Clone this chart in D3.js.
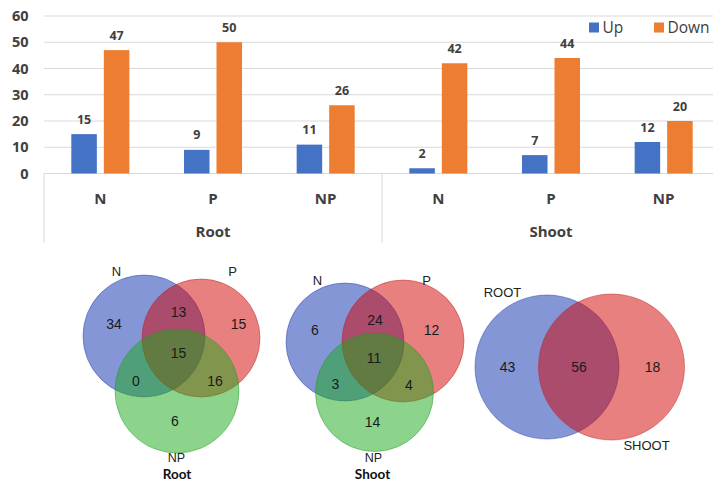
<!DOCTYPE html>
<html>
<head>
<meta charset="utf-8">
<script src="https://cdn.jsdelivr.net/npm/d3@7"></script>
<style>
  html, body { margin: 0; padding: 0; background: #fff; }
  svg { display: block; }
</style>
</head>
<body>
<svg id="chart" width="713" height="483"></svg>
<script>
// ---- Differentially expressed gene counts ----
const groups = ["Root", "Shoot"];
const treatments = ["N", "P", "NP"];
const series = ["Up", "Down"];
const upCounts = [15, 9, 11, 2, 7, 12];
const downCounts = [47, 50, 26, 42, 44, 20];
const yTicks = [0, 10, 20, 30, 40, 50, 60];

// ---- Venn overlap counts ----
const vennSets = ["N", "P", "NP"];
// regions: N only, P only, NP only, N∩P, N∩NP, P∩NP, N∩P∩NP
const rootVenn = [34, 15, 6, 13, 0, 16, 15];
const shootVenn = [6, 12, 14, 24, 3, 4, 11];
const organSets = ["ROOT", "SHOOT"];
const organVenn = [43, 18, 56]; // ROOT only, SHOOT only, shared

const svg = d3.select("#chart");
const colors = { Up: "#4472C4", Down: "#ED7D31" };
const textGray = "#404040";
const barFont = "'Open Sans', 'DejaVu Sans', sans-serif";

// ---------- grouped bar chart ----------
const cats = [];
groups.forEach(g => treatments.forEach(t => cats.push(g + "|" + t)));
const rows = cats.map((c, i) => ({ key: c, Up: upCounts[i], Down: downCounts[i] }));

const y = d3.scaleLinear().domain([0, 60]).range([173.5, 16]);
const x0 = d3.scaleBand().domain(cats).range([44, 720]).paddingInner(0.485).paddingOuter(0.2425);
const x1 = d3.scaleBand().domain(series).range([0, x0.bandwidth()]).paddingInner(0.215);

// gridlines
svg.append("g").selectAll("line").data(yTicks).join("line")
  .attr("x1", 44).attr("x2", 713)
  .attr("y1", d => y(d)).attr("y2", d => y(d))
  .attr("stroke", "#d9d9d9").attr("stroke-width", 1);

// y tick labels
svg.append("g").selectAll("text").data(yTicks).join("text")
  .attr("x", 28.5).attr("y", d => y(d)).attr("dy", "0.36em")
  .attr("text-anchor", "end")
  .attr("font-family", barFont).attr("font-weight", 700).attr("font-size", 14.5)
  .attr("fill", textGray).text(d => d);

// group separators below the axis
const sepX = [44, (x0(cats[2]) + x0.bandwidth() + x0(cats[3])) / 2];
svg.append("g").selectAll("line").data(sepX).join("line")
  .attr("x1", d => d).attr("x2", d => d)
  .attr("y1", y(0)).attr("y2", 243)
  .attr("stroke", "#d9d9d9").attr("stroke-width", 1);

// bars
const gBars = svg.append("g").selectAll("g").data(rows).join("g")
  .attr("transform", d => `translate(${x0(d.key)},0)`);
gBars.selectAll("rect").data(d => series.map(s => ({ s, v: d[s] }))).join("rect")
  .attr("x", d => x1(d.s)).attr("width", x1.bandwidth())
  .attr("y", d => y(d.v)).attr("height", d => y(0) - y(d.v))
  .attr("fill", d => colors[d.s]);
gBars.selectAll("text").data(d => series.map(s => ({ s, v: d[s] }))).join("text")
  .attr("x", d => x1(d.s) + x1.bandwidth() / 2).attr("y", d => y(d.v) - 10.5)
  .attr("text-anchor", "middle")
  .attr("font-family", barFont).attr("font-weight", 700).attr("font-size", 12.5)
  .attr("fill", textGray).text(d => d.v);

// treatment labels
svg.append("g").selectAll("text").data(cats).join("text")
  .attr("x", d => x0(d) + x0.bandwidth() / 2).attr("y", 203.5)
  .attr("text-anchor", "middle")
  .attr("font-family", barFont).attr("font-weight", 700).attr("font-size", 15)
  .attr("fill", textGray).text(d => d.split("|")[1]);

// organ labels
svg.append("g").selectAll("text").data(groups).join("text")
  .attr("x", (g, i) => {
    const a = x0(cats[i * 3]), b = x0(cats[i * 3 + 2]) + x0.bandwidth();
    return (a + b) / 2;
  })
  .attr("y", 237)
  .attr("text-anchor", "middle")
  .attr("font-family", barFont).attr("font-weight", 700).attr("font-size", 15)
  .attr("fill", textGray).text(d => d);

// legend
const legend = svg.append("g").selectAll("g").data(series).join("g")
  .attr("transform", (d, i) => `translate(${[589, 654][i]},0)`);
legend.append("rect").attr("x", 0).attr("y", 22.5).attr("width", 10).attr("height", 10)
  .attr("fill", d => colors[d]);
legend.append("text").attr("x", 13.5).attr("y", 32.5)
  .attr("font-family", barFont).attr("font-size", 15.5)
  .attr("fill", textGray).text(d => d);

// ---------- Venn diagrams ----------
const vennFill = ["rgba(11,45,173,0.5)", "rgba(209,1,1,0.5)", "rgba(25,169,25,0.5)"];
const vennStroke = ["rgba(40,60,160,0.45)", "rgba(190,30,30,0.45)", "rgba(30,150,30,0.45)"];
const vFont = "'Liberation Sans', Arial, sans-serif";

function drawVenn(circles, setNames, namePos, counts, countPos, title, titlePos) {
  const g = svg.append("g");
  g.selectAll("circle").data(circles).join("circle")
    .attr("cx", d => d[0]).attr("cy", d => d[1]).attr("r", d => d[2])
    .attr("fill", (d, i) => vennFill[i]).attr("stroke", (d, i) => vennStroke[i]).attr("stroke-width", 1);
  g.selectAll("text.name").data(setNames).join("text").attr("class", "name")
    .attr("x", (d, i) => namePos[i][0]).attr("y", (d, i) => namePos[i][1])
    .attr("text-anchor", "middle").attr("dy", "0.36em")
    .attr("font-family", vFont).attr("font-size", (d, i) => namePos[i][2] || 13)
    .attr("fill", "#222").text(d => d);
  g.selectAll("text.count").data(counts).join("text").attr("class", "count")
    .attr("x", (d, i) => countPos[i][0]).attr("y", (d, i) => countPos[i][1])
    .attr("text-anchor", "middle").attr("dy", "0.36em")
    .attr("font-family", vFont).attr("font-size", 14).attr("fill", "#1a1a1a").text(d => d);
  if (title) {
    g.append("text").attr("x", titlePos[0]).attr("y", titlePos[1]).attr("dy", "0.36em")
      .attr("text-anchor", "middle")
      .attr("font-family", "Lato, 'Open Sans', sans-serif").attr("font-weight", 700).attr("font-size", 13.5)
      .attr("fill", "#111").text(title);
  }
}

// Root: N, P, NP
drawVenn(
  [[144, 336, 61], [201, 338, 59], [177, 391, 62]],
  vennSets,
  [[116.5, 271.5], [232.5, 271.5], [176.5, 457.5, 12.5]],
  rootVenn,
  [[114, 323.5], [238.5, 323.5], [175, 421], [178.5, 311.5], [136, 381], [215, 381], [178.5, 352.5]],
  "Root", [177, 474]
);

// Shoot: N, P, NP
drawVenn(
  [[345, 342, 59], [403, 341, 61], [374.5, 392.5, 59]],
  vennSets,
  [[317.5, 280.5], [426.5, 280.5], [373.5, 457, 12.5]],
  shootVenn,
  [[315, 330], [431.5, 329.5], [372.5, 421.5], [375, 319.5], [335.5, 383.5], [409, 385], [374, 357.5]],
  "Shoot", [372.5, 474]
);

// Root vs Shoot
drawVenn(
  [[547, 367, 72], [611.5, 367, 73]],
  organSets,
  [[502.5, 292.5], [646.5, 445]],
  organVenn,
  [[507.5, 367], [652.5, 367], [579, 367]],
  null, null
);
</script>
</body>
</html>
